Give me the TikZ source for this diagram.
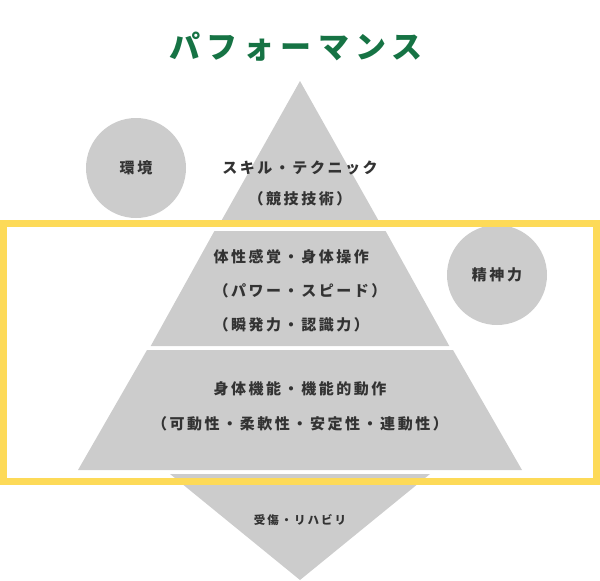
\documentclass[tikz,border=0pt]{standalone}
\usepackage{fontspec}
\usepackage{xcolor}
\usepackage{tikz}
\newfontfamily\jpfont[LetterSpace=17]{Noto Sans CJK JP}
\newfontfamily\jptitle[LetterSpace=20]{Noto Sans CJK JP}
\definecolor{pfgreen}{RGB}{22,115,68}
\definecolor{pfgray}{RGB}{204,204,204}
\definecolor{pfyellow}{RGB}{253,218,88}
\definecolor{pfink}{RGB}{51,51,51}

\begin{document}
\begin{tikzpicture}[
  x=1pt,y=-1pt,
  tier/.style={fill=pfgray,draw=none},
  lbl/.style={text=pfink,font=\jpfont\bfseries\fontsize{15}{31}\selectfont,
              align=center,inner sep=0pt},
  ball/.style={circle,fill=pfgray,minimum size=100pt,inner sep=0pt,
               text=pfink,font=\jpfont\bfseries\fontsize{15}{18}\selectfont},
  frame/.style={draw=pfyellow,line width=7pt}
]
  \useasboundingbox (0,0) rectangle (600,581);
  \node[text=pfgreen,font=\jptitle\bfseries\fontsize{31}{36}\selectfont,inner sep=0pt]
    (title) at (296,47) {パフォーマンス};
  % pyramid tiers
  \fill[tier] (300,81) -- (381.6,226) -- (218.4,226) -- cycle;
  \fill[tier] (214.4,231) -- (385.6,231) -- (449.3,346) -- (150.7,346) -- cycle;
  \fill[tier] (147,350) -- (453,350) -- (522,470) -- (78,470) -- cycle;
  \fill[tier] (170,474) -- (430,474) -- (300,580) -- cycle;
  \node[ball] (env) at (136,168) {環境};
  \node[ball] (mind) at (497,275) {精神力};
  \node[lbl] (skill) at (300,183) {スキル・テクニック\\（競技技術）};
  \node[lbl,align=left,font=\jpfont\bfseries\fontsize{15}{34}\selectfont]
    (sense) at (300,291) {体性感覚・身体操作\\（パワー・スピード）\\（瞬発力・認識力）};
  \node[lbl,font=\jpfont\bfseries\fontsize{15}{35}\selectfont]
    (body) at (300,406) {身体機能・機能的動作\\（可動性・柔軟性・安定性・連動性）};
  \node[lbl,font=\jpfont\bfseries\fontsize{11.5}{14}\selectfont]
    (rehab) at (300,520) {受傷・リハビリ};
  \draw[frame] (3.5,223.5) rectangle (596.5,481.5);
\end{tikzpicture}
\end{document}
